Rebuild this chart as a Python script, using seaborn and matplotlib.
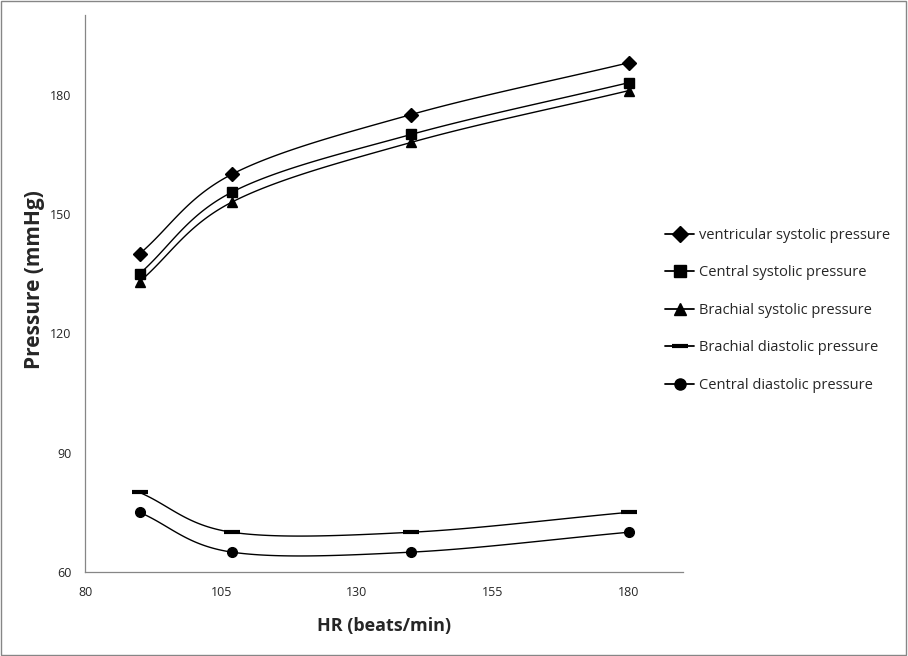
import numpy as np
import matplotlib
matplotlib.use("Agg")
import matplotlib.pyplot as plt
import seaborn as sns
from matplotlib.lines import Line2D
from matplotlib.patches import Rectangle

# data
hr = [90, 107, 140, 180]
ventricular_sys = [140, 160, 175, 188]
central_sys = [135, 155.5, 170, 183]
brachial_sys = [133, 153, 168, 181]
brachial_dia = [80, 70, 70, 75]
central_dia = [75, 65, 65, 70]

labels = ["ventricular systolic pressure", "Central systolic pressure",
          "Brachial systolic pressure", "Brachial diastolic pressure",
          "Central diastolic pressure"]
series = [ventricular_sys, central_sys, brachial_sys, brachial_dia, central_dia]
markers = ["D", "s", "^", "_", "o"]
msizes = [7, 7, 7, 11, 7]

sns.set_style("white")
plt.rcParams['font.family'] = ['Open Sans', 'DejaVu Sans']


def smooth(xs, ys, n=40):
    # Excel style smoothed line (Catmull-Rom through the points)
    xs = np.asarray(xs, float)
    ys = np.asarray(ys, float)
    px = np.concatenate([[2 * xs[0] - xs[1]], xs, [2 * xs[-1] - xs[-2]]])
    py = np.concatenate([[2 * ys[0] - ys[1]], ys, [2 * ys[-1] - ys[-2]]])
    outx, outy = [], []
    t = np.linspace(0, 1, n)
    for i in range(1, len(px) - 2):
        for arr, out in ((px, outx), (py, outy)):
            p0, p1, p2, p3 = arr[i - 1], arr[i], arr[i + 1], arr[i + 2]
            out.extend(0.5 * ((2 * p1) + (-p0 + p2) * t
                              + (2 * p0 - 5 * p1 + 4 * p2 - p3) * t ** 2
                              + (-p0 + 3 * p1 - 3 * p2 + p3) * t ** 3))
    return np.array(outx), np.array(outy)


fig = plt.figure(figsize=(9.08, 6.56), dpi=100)
ax = fig.add_axes([0.094, 0.128, 0.658, 0.849])

handles = []
for ys, lab, m, ms in zip(series, labels, markers, msizes):
    sx, sy = smooth(hr, ys)
    sns.lineplot(x=sx, y=sy, ax=ax, color="black", linewidth=1.0, sort=False)
    mew = 3 if m == "_" else 1
    ax.plot(hr, ys, linestyle="none", marker=m, markersize=ms, color="black",
            markeredgewidth=mew, zorder=3)
    handles.append(Line2D([], [], color="black", linewidth=1.3, marker=m,
                          markersize=ms + 1, markeredgewidth=mew))

ax.set_xlim(80, 190)
ax.set_ylim(60, 200)
ax.set_xticks([80, 105, 130, 155, 180])
ax.set_yticks([60, 90, 120, 150, 180])

for side in ["top", "right"]:
    ax.spines[side].set_visible(False)
for side in ["left", "bottom"]:
    ax.spines[side].set_color("#868686")
    ax.spines[side].set_linewidth(0.9)
ax.tick_params(axis="both", direction="out", length=4, width=0.9, color="#868686",
               labelsize=9, pad=6)

ax.set_xlabel("HR (beats/min)", fontsize=13, fontweight="bold", labelpad=13)
ax.set_ylabel("Pressure (mmHg)", fontsize=15, fontweight="bold")
ax.yaxis.set_label_coords(-0.068, 0.526)

fig.legend(handles=handles, labels=labels, loc="upper left",
           bbox_to_anchor=(0.718, 0.673), frameon=False, fontsize=10.5,
           handlelength=2.0, handletextpad=0.3, labelspacing=1.55)

# outer chart border
fig.patches.append(Rectangle((0.001, 0.001), 0.997, 0.997, transform=fig.transFigure,
                             fill=False, edgecolor="#868686", linewidth=1.0))

plt.savefig("out.png", dpi=100)
